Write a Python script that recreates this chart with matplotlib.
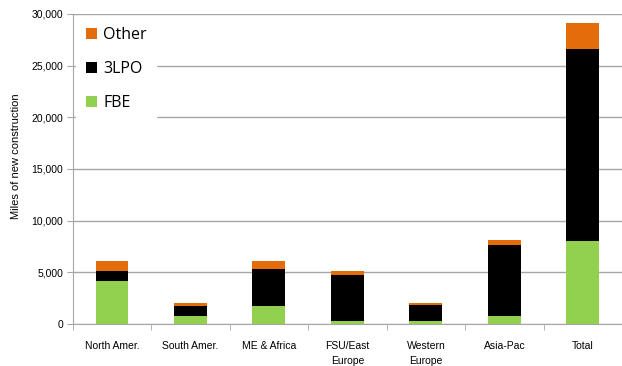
import matplotlib.pyplot as plt
import numpy as np

# miles of new construction by region, split by coating type
regions = ["North Amer.", "South Amer.", "ME & Africa", "FSU/East\nEurope",
           "Western\nEurope", "Asia-Pac", "Total"]
fbe = [4150, 750, 1700, 250, 250, 750, 8050]
lpo3 = [950, 950, 3650, 4450, 1550, 6850, 18550]
other = [1000, 350, 700, 400, 200, 500, 2500]

c_fbe = "#92D050"
c_lpo = "#000000"
c_other = "#E46C0A"

plt.rcParams['font.family'] = ['Liberation Sans', 'DejaVu Sans']

fig = plt.figure(figsize=(6.22, 3.66), dpi=100)
ax = fig.add_axes([0.117, 0.115, 0.883, 0.847])

x = np.arange(len(regions))
w = 0.42
b1 = ax.bar(x, fbe, w, color=c_fbe, label="FBE", zorder=3)
b2 = ax.bar(x, lpo3, w, bottom=fbe, color=c_lpo, label="3LPO", zorder=3)
bottom2 = np.array(fbe) + np.array(lpo3)
b3 = ax.bar(x, other, w, bottom=bottom2, color=c_other, label="Other", zorder=3)

ax.set_xlim(-0.5, len(regions) - 0.5)
ax.set_ylim(0, 30000)
ax.set_yticks(np.arange(0, 30001, 5000))
ax.set_yticklabels(["{:,}".format(v) for v in range(0, 30001, 5000)], fontsize=7.5)
ax.yaxis.grid(True, color="#a6a6a6", lw=1.0, zorder=0)

# category labels centred, tick marks on the boundaries
ax.set_xticks(x)
ax.set_xticklabels(regions, fontsize=7.5, linespacing=1.65, va="top")
ax.tick_params(axis="x", length=0, pad=12)
ax.set_xticks(np.arange(-0.5, len(regions), 1.0), minor=True)
ax.tick_params(axis="x", which="minor", length=4, color="#a6a6a6", direction="out")
ax.tick_params(axis="y", length=4, color="#a6a6a6", pad=3)

for s in ["top", "right"]:
    ax.spines[s].set_visible(False)
ax.spines["left"].set_color("#a6a6a6")
ax.spines["bottom"].set_color("#a6a6a6")

ax.set_ylabel("Miles of new construction", fontsize=8)
ax.yaxis.set_label_coords(-0.095, 0.54)

leg = ax.legend([b3, b2, b1], ["Other", "3LPO", "FBE"], loc="upper left",
                bbox_to_anchor=(0.0, 1.0), frameon=True, fancybox=False,
                edgecolor="white", framealpha=1.0,
                prop={"family": ["Open Sans", "DejaVu Sans"], "size": 11.5},
                handlelength=0.7, handleheight=0.7, handletextpad=0.4,
                labelspacing=1.15, borderpad=0.6, borderaxespad=0.2)
leg.set_zorder(5)

fig.savefig("out.png", dpi=100)
